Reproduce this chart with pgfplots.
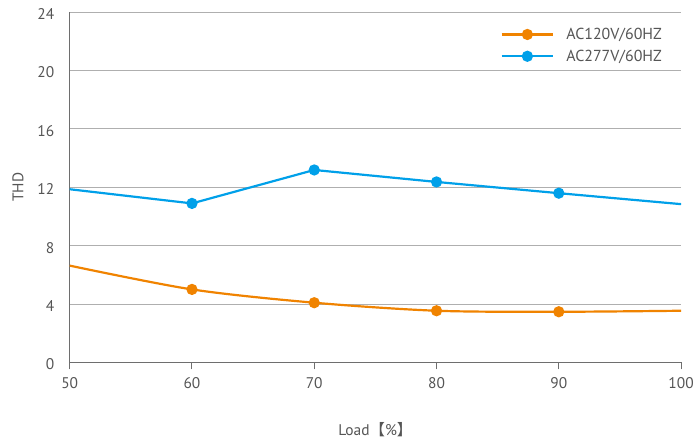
\documentclass[border=0pt]{standalone}
\usepackage{pgfplots}
\pgfplotsset{compat=1.18}
\usepackage{fontspec}
\setmainfont{PT Sans}
\newfontfamily\cjk{Noto Sans CJK SC}
\definecolor{thdorange}{RGB}{240,131,0}
\definecolor{thdblue}{RGB}{0,160,233}
\definecolor{gridgray}{RGB}{175,175,175}
\definecolor{axisgray}{RGB}{110,110,110}
\definecolor{textgray}{RGB}{85,85,85}
\begin{document}
\begin{tikzpicture}
\begin{axis}[
    at={(0pt,0pt)}, anchor=south west,
    scale only axis,
    width=614pt, height=352pt,
    xmin=50, xmax=100, ymin=0, ymax=24,
    xtick={50,60,...,100}, ytick={0,4,...,24},
    axis x line*=bottom, axis y line*=left,
    axis line style={axisgray, line width=1pt, -},
    ymajorgrids, grid style={gridgray, line width=0.9pt},
    x tick style={axisgray, line width=1pt},
    tick align=outside,
    major tick length=7pt,
    y tick style={draw=none},
    ticklabel style={font=\fontsize{15.5}{17}\selectfont, text=textgray},
    /pgf/number format/assume math mode=true,
    xticklabel style={yshift=-5pt},
    yticklabel style={xshift=-5pt, yshift=-2pt},
    xlabel={Load{\cjk【}\%{\cjk】}},
    ylabel={THD},
    label style={font=\fontsize{15.5}{17}\selectfont, text=textgray},
    xlabel style={at={(axis description cs:0.5,0)}, anchor=center, yshift=-67pt},
    ylabel style={at={(axis description cs:-0.0847,0.5)}, anchor=center},
    legend cell align=left,
    legend style={draw=none, fill=none, at={(0.977,0.966)}, anchor=north east,
        font=\fontsize{16}{18}\selectfont, text=textgray,
        row sep=5pt},
    legend image code/.code={\draw[#1, mark indices={2}]
        plot coordinates {(0pt,0pt) (26pt,0pt) (52pt,0pt)};
        \path (62pt,0pt);},
]
\addplot[thdorange, line width=2.2pt, smooth, mark=*, mark size=4.5pt,
    mark indices={2,3,4,5}] coordinates {
    (50,6.63) (60,5.00) (70,4.09) (80,3.54) (90,3.47) (100,3.54)
};
\addlegendentry{AC120V/60HZ}
\addplot[thdblue, line width=2.2pt, mark=*, mark size=4.5pt,
    mark indices={2,3,4,5}] coordinates {
    (50,11.86) (60,10.89) (70,13.18) (80,12.36) (90,11.59) (100,10.84)
};
\addlegendentry{AC277V/60HZ}
\end{axis}
\useasboundingbox (-70pt,-75pt) rectangle (627pt,364pt);
\end{tikzpicture}
\end{document}
